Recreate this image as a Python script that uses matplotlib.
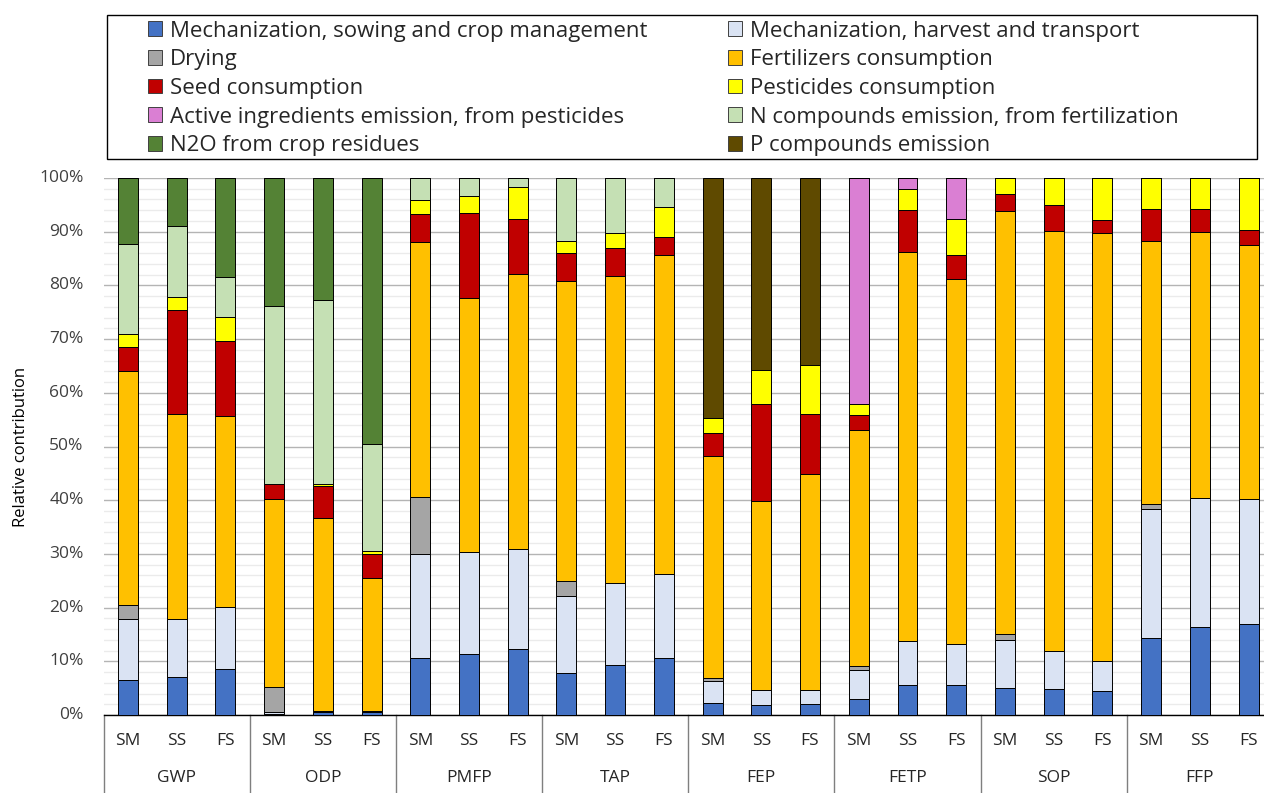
import numpy as np
import matplotlib
matplotlib.use('Agg')
import matplotlib.pyplot as plt
import matplotlib.transforms as mtrans
from matplotlib.patches import Patch, Rectangle
from matplotlib.ticker import MultipleLocator

plt.rcParams['font.family'] = ['Open Sans', 'DejaVu Sans']

groups = ['GWP', 'ODP', 'PMFP', 'TAP', 'FEP', 'FETP', 'SOP', 'FFP']
systems = ['SM', 'SS', 'FS']

series_names = ['Mechanization, sowing and crop management',
                'Mechanization, harvest and transport',
                'Drying',
                'Fertilizers consumption',
                'Seed consumption',
                'Pesticides consumption',
                'Active ingredients emission, from pesticides',
                'N compounds emission, from fertilization',
                'N2O from crop residues',
                'P compounds emission']
series_colors = ['#4472C4', '#DAE3F3', '#A5A5A5', '#FFC000', '#C00000',
                 '#FFFF00', '#DA7FD3', '#C5E0B4', '#548235', '#5F4A00']

# % values, bars ordered GWP SM,SS,FS, ODP SM,SS,FS, ...
sowing = [6.6, 7.0, 8.6, 0.2, 0.5, 0.5, 10.6, 11.4, 12.2, 7.9, 9.4, 10.7,
          2.2, 1.8, 2.0, 2.9, 5.5, 5.5, 5.1, 4.8, 4.5, 14.3, 16.4, 16.9]
harvest = [11.3, 10.9, 11.5, 0.3, 0.3, 0.3, 19.3, 19.0, 18.8, 14.2, 15.1, 15.5,
           4.2, 2.9, 2.7, 5.5, 8.3, 7.8, 8.9, 7.2, 5.6, 24.1, 24.1, 23.3]
drying = [2.5, 0, 0, 4.8, 0, 0, 10.7, 0, 0, 2.8, 0, 0,
          0.5, 0, 0, 0.7, 0, 0, 1.1, 0, 0, 0.9, 0, 0]
fertilizers = [43.7, 38.1, 35.6, 34.9, 35.8, 24.8, 47.5, 47.2, 51.2, 56.0, 57.2, 59.4,
               41.3, 35.2, 40.2, 43.9, 72.5, 67.8, 78.8, 78.2, 79.7, 48.9, 49.5, 47.4]
seed = [4.5, 19.4, 13.9, 2.8, 6.0, 4.3, 5.2, 15.9, 10.2, 5.2, 5.3, 3.5,
        4.4, 18.1, 11.1, 2.9, 7.7, 4.6, 3.1, 4.8, 2.4, 6.0, 4.3, 2.7]
pesticides = [2.3, 2.4, 4.5, 0, 0.4, 0.7, 2.6, 3.1, 5.9, 2.1, 2.8, 5.5,
              2.8, 6.3, 9.2, 2.1, 3.9, 6.7, 3.0, 5.0, 7.8, 5.8, 5.7, 9.7]
active_ingr = [0, 0, 0, 0, 0, 0, 0, 0, 0, 0, 0, 0,
               0, 0, 0, 42.0, 2.1, 7.6, 0, 0, 0, 0, 0, 0]
n_compounds = [16.9, 13.3, 7.4, 33.1, 34.2, 19.8, 4.1, 3.4, 1.7, 11.8, 10.2, 5.4,
               0, 0, 0, 0, 0, 0, 0, 0, 0, 0, 0, 0]
n2o = [12.2, 8.9, 18.5, 23.9, 22.8, 49.6, 0, 0, 0, 0, 0, 0,
       0, 0, 0, 0, 0, 0, 0, 0, 0, 0, 0, 0]
p_compounds = [0, 0, 0, 0, 0, 0, 0, 0, 0, 0, 0, 0,
               44.6, 35.7, 34.8, 0, 0, 0, 0, 0, 0, 0, 0, 0]

all_series = [sowing, harvest, drying, fertilizers, seed, pesticides,
              active_ingr, n_compounds, n2o, p_compounds]
yticks = np.arange(0, 101, 10)

W, H = 1264, 793
fig = plt.figure(figsize=(W / 100, H / 100), dpi=100)
ax_l, ax_r, ax_t, ax_b = 103.6, 1272.9, 178, 715
ax = fig.add_axes([ax_l / W, 1 - ax_b / H, (ax_r - ax_l) / W, (ax_b - ax_t) / H])

n = len(groups) * len(systems)
x = np.arange(n)
vals = np.array(all_series, dtype=float)
# normalise to 100 % like the stacked-percent chart
vals = vals / vals.sum(axis=0) * 100
bottom = np.zeros(n)
for v, c in zip(vals, series_colors):
    ax.bar(x, v, bottom=bottom, width=0.41, color=c, edgecolor='black',
           linewidth=0.7, zorder=3)
    bottom += v

ax.set_xlim(-0.5, n - 0.5)
ax.set_ylim(0, 100)
ax.set_yticks(yticks)
ax.yaxis.set_minor_locator(MultipleLocator(2))
ax.grid(axis='y', which='major', color='#B4B4B4', linewidth=1.0, zorder=0)
ax.grid(axis='y', which='minor', color='#EBEBEB', linewidth=1.0, zorder=0)
ax.tick_params(axis='both', which='both', length=0, labelleft=False,
               labelbottom=False)
for s in ['top', 'right', 'left']:
    ax.spines[s].set_visible(False)
ax.spines['bottom'].set_color('black')
ax.spines['bottom'].set_linewidth(1.0)

# y tick labels, right aligned at a fixed pixel column
ytr = mtrans.blended_transform_factory(fig.transFigure, ax.transData)
for v in yticks:
    ax.text(83.5 / W, v, f'{v}%', transform=ytr, ha='right', va='center',
            fontsize=12.5, color='#404040', clip_on=False)
ax.set_ylabel('Relative contribution', fontsize=12, color='black')
ax.yaxis.label.set_va('center')
ax.yaxis.set_label_coords((21 - ax_l) / (ax_r - ax_l), 0.5)

# two-level category axis
trans = ax.get_xaxis_transform()
for i in range(n):
    ax.text(i, -(741 - ax_b) / (ax_b - ax_t), systems[i % 3], transform=trans,
            ha='center', va='center', fontsize=12.5, color='#262626')
for g, name in enumerate(groups):
    ax.text(3 * g + 1, -(778 - ax_b) / (ax_b - ax_t), name, transform=trans,
            ha='center', va='center', fontsize=12.5, color='#262626')
for g in range(len(groups) + 1):
    ax.plot([3 * g - 0.5, 3 * g - 0.5], [0, -(H - ax_b) / (ax_b - ax_t)],
            transform=trans, color='#7F7F7F', linewidth=1.0, clip_on=False)

# legend box, two columns read row-wise
fig.patches.append(Rectangle((107 / W, 1 - 159 / H), 1150 / W, 144 / H,
                             transform=fig.transFigure, facecolor='none',
                             edgecolor='black', linewidth=1.0))
for col, x0 in zip([0, 1], [148, 728]):
    idx = [col, col + 2, col + 4, col + 6, col + 8]
    handles = [Patch(facecolor=series_colors[i], edgecolor='#404040',
                     linewidth=0.7, label=series_names[i]) for i in idx]
    leg = fig.legend(handles=handles, loc='upper left',
                     bbox_to_anchor=(x0 / W, 1 - 20.5 / H), fontsize=16,
                     frameon=False, handlelength=0.65, handleheight=0.65,
                     handletextpad=0.35, labelspacing=0.345, borderpad=0,
                     borderaxespad=0)
    for t in leg.get_texts():
        t.set_color('#262626')

fig.savefig('out.png', dpi=100)
